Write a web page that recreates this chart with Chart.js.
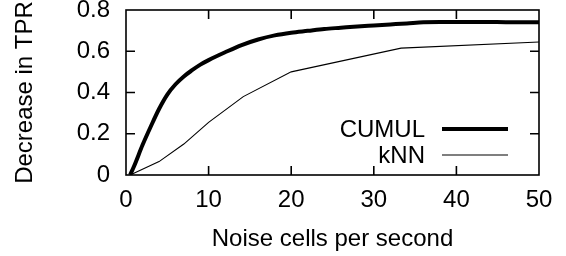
<!DOCTYPE html>
<html>
<head>
<meta charset="utf-8">
<script src="https://cdn.jsdelivr.net/npm/chart.js@4.4.1/dist/chart.umd.min.js"></script>
<style>
  html, body { margin: 0; padding: 0; background: #fff; }
  canvas { display: block; }
</style>
</head>
<body>
<canvas id="chart" width="566" height="256"></canvas>
<script>
// tick values and labels
const xTicks = [0, 10, 20, 30, 40, 50];
const xTickLabels = ['0', '10', '20', '30', '40', '50'];
const yTicks = [0, 0.2, 0.4, 0.6, 0.8];
const yTickLabels = ['0', '0.2', '0.4', '0.6', '0.8'];

// CUMUL (thick curve)
const cumulX = [0.5, 1, 2, 3, 4, 5, 6, 7, 8, 9, 10, 12, 14, 16, 18, 20, 22, 24, 26, 28, 30, 32, 34, 36, 38, 40, 43, 46, 50];
const cumulY = [0, 0.045, 0.145, 0.235, 0.32, 0.39, 0.44, 0.478, 0.508, 0.535, 0.557, 0.595, 0.63, 0.657, 0.677, 0.69, 0.699, 0.708, 0.714, 0.72, 0.725, 0.73, 0.735, 0.741, 0.742, 0.742, 0.742, 0.741, 0.74];

// kNN (thin line)
const knnX = [0.5, 4, 7, 10, 14.2, 20, 33.3, 50];
const knnY = [0, 0.065, 0.15, 0.255, 0.38, 0.5, 0.615, 0.645];

const FONT = { family: '"Liberation Sans", Arial, Helvetica, sans-serif', size: 24 };

function toPoints(xs, ys) {
    return xs.map((x, i) => ({ x: x, y: ys[i] }));
}

// box round the plot with inward ticks on all four sides (gnuplot style)
const framePlugin = {
    id: 'frame',
    beforeDatasetsDraw(chart) {
        const { ctx, chartArea: a, scales } = chart;
        const len = 9;
        ctx.save();
        ctx.strokeStyle = '#000';
        ctx.lineWidth = 1.6;
        ctx.strokeRect(a.left, a.top, a.right - a.left, a.bottom - a.top);
        ctx.beginPath();
        scales.x.ticks.forEach(t => {
            const px = scales.x.getPixelForValue(t.value);
            if (px <= a.left + 1 || px >= a.right - 1) return;
            ctx.moveTo(px, a.bottom); ctx.lineTo(px, a.bottom - len);
            ctx.moveTo(px, a.top); ctx.lineTo(px, a.top + len);
        });
        scales.y.ticks.forEach(t => {
            const py = scales.y.getPixelForValue(t.value);
            if (py >= a.bottom - 1 || py <= a.top + 1) return;
            ctx.moveTo(a.left, py); ctx.lineTo(a.left + len, py);
            ctx.moveTo(a.right, py); ctx.lineTo(a.right - len, py);
        });
        ctx.stroke();
        ctx.restore();
    }
};

// key inside the plot: text right aligned, line sample on its right
const keyPlugin = {
    id: 'key',
    afterDatasetsDraw(chart) {
        const { ctx, chartArea: a } = chart;
        const textRight = a.right - 114;
        const sampleLen = 66;
        const gap = 17;
        const rowH = 26;
        const n = chart.data.datasets.length;
        ctx.save();
        ctx.font = `${FONT.size}px ${FONT.family}`;
        ctx.textAlign = 'right';
        ctx.textBaseline = 'middle';
        chart.data.datasets.forEach((ds, i) => {
            const y = a.bottom - 20 - (n - 1 - i) * rowH;
            ctx.fillStyle = '#000';
            ctx.fillText(ds.label, textRight, y + 1);
            ctx.strokeStyle = ds.borderColor;
            ctx.lineWidth = ds.borderWidth;
            ctx.beginPath();
            ctx.moveTo(textRight + gap, y);
            ctx.lineTo(textRight + gap + sampleLen, y);
            ctx.stroke();
        });
        ctx.restore();
    }
};

const ctx = document.getElementById('chart').getContext('2d');

new Chart(ctx, {
    type: 'line',
    data: {
        datasets: [
            {
                label: 'CUMUL',
                data: toPoints(cumulX, cumulY),
                borderColor: '#000',
                borderWidth: 4,
                pointRadius: 0,
                cubicInterpolationMode: 'monotone',
                fill: false
            },
            {
                label: 'kNN',
                data: toPoints(knnX, knnY),
                borderColor: '#000',
                borderWidth: 1.1,
                pointRadius: 0,
                tension: 0,
                fill: false
            }
        ]
    },
    options: {
        responsive: false,
        animation: false,
        devicePixelRatio: 1,
        layout: { padding: 0 },
        plugins: {
            legend: { display: false },
            tooltip: { enabled: false }
        },
        scales: {
            x: {
                type: 'linear',
                min: 0,
                max: 50,
                afterBuildTicks: s => { s.ticks = xTicks.map(v => ({ value: v })); },
                ticks: {
                    font: FONT,
                    color: '#000',
                    padding: 3,
                    maxRotation: 0,
                    callback: (v, i) => xTickLabels[i]
                },
                grid: { display: false },
                border: { display: false },
                title: {
                    display: true,
                    text: 'Noise cells per second',
                    font: FONT,
                    color: '#000',
                    padding: { top: 0, bottom: 2 }
                },
                afterFit: s => {
                    s.height = 81;
                    s.paddingLeft = 0;
                    s.paddingRight = 27;
                }
            },
            y: {
                type: 'linear',
                min: 0,
                max: 0.8,
                afterBuildTicks: s => { s.ticks = yTicks.map(v => ({ value: v })); },
                ticks: {
                    font: FONT,
                    color: '#000',
                    padding: 8,
                    callback: (v, i) => yTickLabels[i]
                },
                grid: { display: false },
                border: { display: false },
                title: {
                    display: true,
                    text: 'Decrease in TPR',
                    font: FONT,
                    color: '#000',
                    padding: { top: 11, bottom: 0 }
                },
                afterFit: s => {
                    s.width = 126;
                    s.paddingTop = 10;
                    s.paddingBottom = 0;
                }
            }
        }
    },
    plugins: [framePlugin, keyPlugin]
});
</script>
</body>
</html>
